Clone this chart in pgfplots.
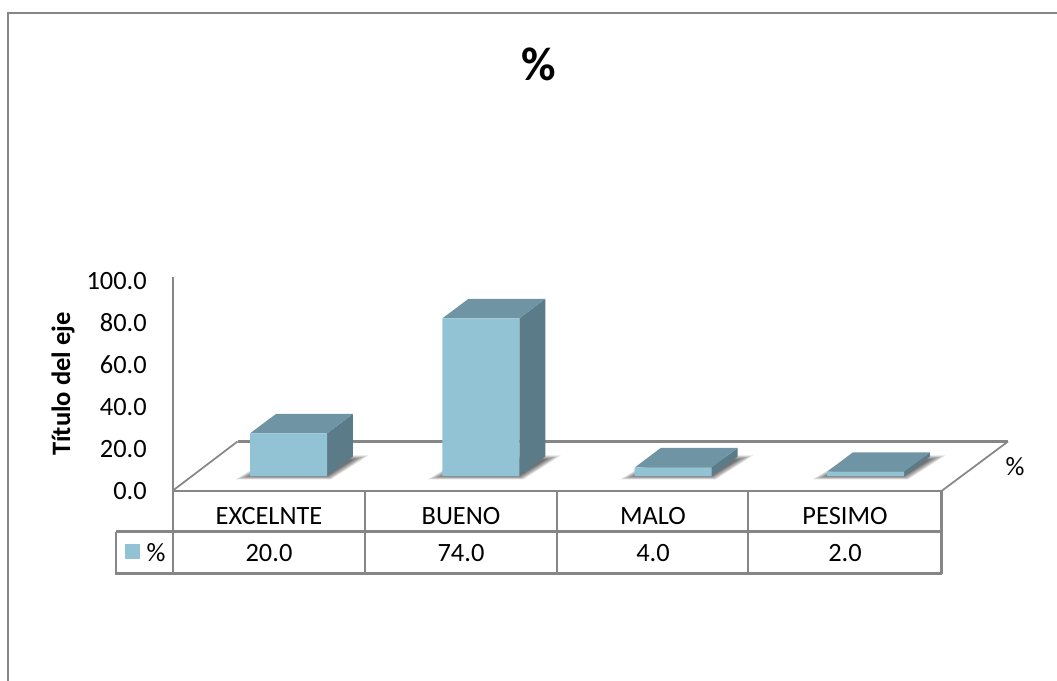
\documentclass[border=0pt]{standalone}
\usepackage{fontspec}
\setmainfont{Carlito}
\usepackage{pgfplots}
\usepackage{pgfplotstable}
\pgfplotsset{compat=1.18}

\definecolor{barfront}{HTML}{92C3D5}
\definecolor{bartop}{HTML}{6F95A5}
\definecolor{barside}{HTML}{5B7B88}
\definecolor{gridgray}{HTML}{868686}

\pgfplotstableread{
pos value
0 20.0
1 74.0
2 4.0
3 2.0
}\ratings

% depth faces of one bar: position, value
\newcommand{\barfaces}[2]{%
  \pgfmathsetmacro{\xl}{#1-0.2}\pgfmathsetmacro{\xr}{#1+0.2}%
  \pgfmathsetmacro{\xlb}{\xl+0.1352}\pgfmathsetmacro{\xrb}{\xr+0.1352}%
  \pgfmathsetmacro{\yb}{#2+9.15}%
  \edef\tmp{\noexpand\addplot[forget plot,draw=none,fill=barside] coordinates {(\xr,0) (\xrb,9.15) (\xrb,\yb) (\xr,#2)};
    \noexpand\addplot[forget plot,draw=none,fill=bartop] coordinates {(\xl,#2) (\xlb,\yb) (\xrb,\yb) (\xr,#2)};}\tmp}

% one soft layer of the floor shadow: position, spread
\newcommand{\shadowlayer}[2]{%
  \pgfmathsetmacro{\xl}{#1-0.2-0.075*#2}\pgfmathsetmacro{\xr}{#1+0.2+0.02*#2}%
  \pgfmathsetmacro{\xlb}{#1-0.2+0.1352}\pgfmathsetmacro{\xrb}{#1+0.2+0.1352+0.08*#2}%
  \pgfmathsetmacro{\yf}{-1.6*#2}\pgfmathsetmacro{\yt}{9.15-1.5+2*#2}%
  \edef\tmp{\noexpand\addplot[forget plot,draw=none,fill=black,fill opacity=0.12] coordinates {(\xl,\yf) (\xr,\yf) (\xrb,\yt) (\xlb,\yt)};}\tmp}
\newcommand{\barshadow}[1]{\shadowlayer{#1}{1}\shadowlayer{#1}{0.8}\shadowlayer{#1}{0.6}\shadowlayer{#1}{0.4}\shadowlayer{#1}{0.2}\shadowlayer{#1}{0.05}}

\begin{document}
\begin{tikzpicture}[x=0.75pt,y=-0.75pt,font=\fontsize{19.8pt}{23pt}\selectfont]
\useasboundingbox (0,0) rectangle (1057,681);
\fill[white] (0,0) rectangle (1057,681);

% chart frame
\draw[gridgray,line width=1.1pt] (8,681) -- (8,13) -- (1057,13);

% floor
\draw[gridgray,line width=1.3pt] (173,490.5) -- (237.5,441.5);
\draw[gridgray,line width=1.3pt] (1008,441.5) -- (941.5,491);
\draw[gridgray,line width=1.8pt] (237.5,441.5) -- (1008,441.5);

\begin{axis}[
    at={(0pt,-510.75pt)},
    anchor=south west,
    scale only axis,
    width=792.75pt,
    height=510.75pt,
    xmin=-1.5, xmax=3.9957,
    ymin=-96.24, ymax=223.47,
    hide axis,
]
\barshadow{0}
\barshadow{1}
\barshadow{2}
\barshadow{3}
\barfaces{0}{20.0}
\barfaces{1}{74.0}
\barfaces{2}{4.0}
\barfaces{3}{2.0}
\addplot[ybar,bar width=57.75pt,bar shift=0pt,draw=none,fill=barfront] table[x=pos,y=value] {\ratings};
\end{axis}

% value axis
\begin{axis}[
    at={(129.75pt,-368.25pt)},
    anchor=south west,
    scale only axis,
    width=576.75pt,
    height=160.5pt,
    xmin=0, xmax=4,
    ymin=0, ymax=101.9,
    axis x line=none,
    axis y line=left,
    axis line style={gridgray,line width=1.8pt,-},
    ytick={0,20,40,60,80,100},
    major tick length=0pt,
    /pgf/number format/assume math mode=true,
    /pgf/number format/fixed,
    /pgf/number format/fixed zerofill,
    /pgf/number format/precision=1,
    yticklabel style={font=\fontsize{19.8pt}{23pt}\selectfont,inner sep=0pt,xshift=-19.5pt},
    ylabel={Título del eje},
    ylabel style={font=\fontsize{19.9pt}{23pt}\selectfont\bfseries,at={(axis description cs:-0.143,0.5)},anchor=center},
]
\addplot[draw=none,forget plot] coordinates {(0,0) (4,100)};
\end{axis}

% data table
\draw[gridgray,line width=1.8pt] (173,491) -- (941.5,491);
\draw[gridgray,line width=1.6pt] (116,531.5) -- (941.5,531.5);
\draw[gridgray,line width=1.6pt] (115.4,573.5) -- (942.1,573.5);
\draw[gridgray,line width=1.6pt] (116,531.5) -- (116,573.5);
\draw[gridgray,line width=1.6pt] (173,491) -- (173,573.5);
\foreach \xx in {364.7,556.7,748.3,941.5}
  \draw[gridgray,line width=1.6pt] (\xx,491) -- (\xx,573.5);
\fill[barfront] (125,544) rectangle (140,559);
\node at (156,553) {\%};
\foreach \xx/\lab in {269/EXCELNTE,461/BUENO,653/MALO,845/PESIMO}
  \node at (\xx,516) {\lab};
\foreach \xx/\val in {269/20.0,461/74.0,653/4.0,845/2.0}
  \node at (\xx,553) {\val};
\node at (1015,467) {\%};

% title
\node at (539,64) {\fontsize{35.5pt}{40pt}\selectfont\bfseries \%};
\end{tikzpicture}
\end{document}
